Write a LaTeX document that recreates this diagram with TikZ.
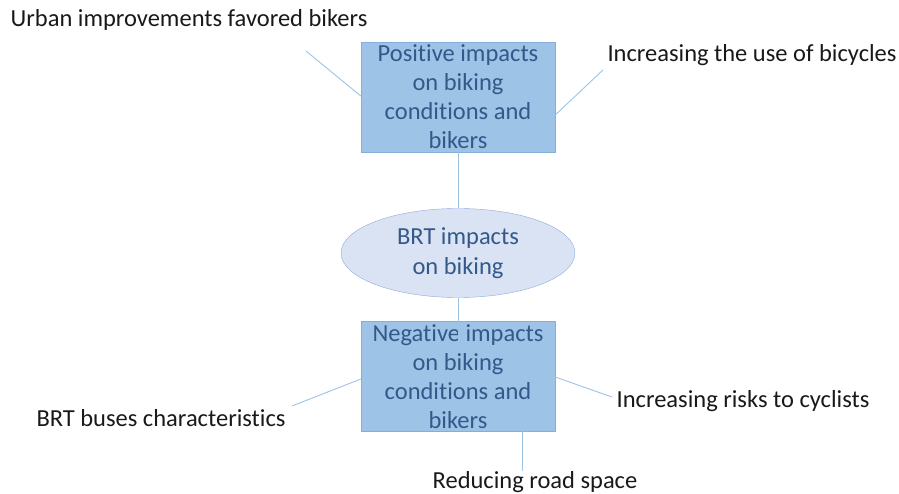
\documentclass[tikz,border=0pt]{standalone}
\usepackage{fontspec}
\setmainfont{Carlito}[Ligatures={NoCommon}]
\usetikzlibrary{shapes.geometric}
\definecolor{boxfill}{HTML}{9DC3E6}
\definecolor{boxline}{HTML}{86AEDA}
\definecolor{ovalfill}{HTML}{DAE3F3}
\definecolor{ovalline}{HTML}{8FAADC}
\definecolor{boxtext}{HTML}{33598A}
\definecolor{linkline}{HTML}{9DC3E6}
\begin{document}
\begin{tikzpicture}[x=1pt, y=-1pt,
    impactbox/.style={draw=boxline, fill=boxfill, minimum width=194pt, minimum height=110pt,
        inner sep=0pt, align=center, text=boxtext, font=\fontsize{24.5}{29}\selectfont},
    centeroval/.style={ellipse, draw=ovalline, fill=ovalfill, minimum width=234pt, minimum height=89pt,
        inner sep=0pt, align=center, text=boxtext, font=\fontsize{24.5}{30}\selectfont},
    factor/.style={inner sep=0pt, text=black!90, font=\fontsize{24.5}{28}\selectfont},
    link/.style={draw=linkline, line width=0.9pt}]
            % 画布大小
            \useasboundingbox (0,0) rectangle (899,494);

            % 中间三个图形
            \node[impactbox] (pos) at (458,97) {Positive impacts\\on biking\\conditions and\\bikers};
            \node[centeroval] (brt) at (458,253) {BRT impacts\\on biking};
            \node[impactbox] (neg) at (458,376.5) {Negative impacts\\on biking\\conditions and\\bikers};

            % 外围的因素
            \node[factor] (urban) at (189,20) {Urban improvements favored bikers};
            \node[factor] (use) at (752,55) {Increasing the use of bicycles};
            \node[factor] (buses) at (161,418) {BRT buses characteristics};
            \node[factor] (risks) at (743,401) {Increasing risks to cyclists};
            \node[factor] (space) at (535,482) {Reducing road space};

            % 连线的自由端
            \coordinate (urbanend) at (306,51);
            \coordinate (useend) at (603,70);
            \coordinate (busesend) at (292,406);
            \coordinate (risksend) at (612,397);
            \coordinate (spaceend) at (522,471);
            \coordinate (negin) at (458,352);

            % 连线
            \draw[link] (pos.south) -- (brt.north);
            \draw[link] (brt.south) -- (negin);
            \draw[link] (pos.west |- 0,96) -- (urbanend);
            \draw[link] (pos.east |- 0,115) -- (useend);
            \draw[link] (neg.west |- 0,379) -- (busesend);
            \draw[link] (neg.east |- 0,377) -- (risksend);
            \draw[link] (neg.south -| 522,0) ++(0,-3) -- (spaceend);
\end{tikzpicture}
\end{document}
